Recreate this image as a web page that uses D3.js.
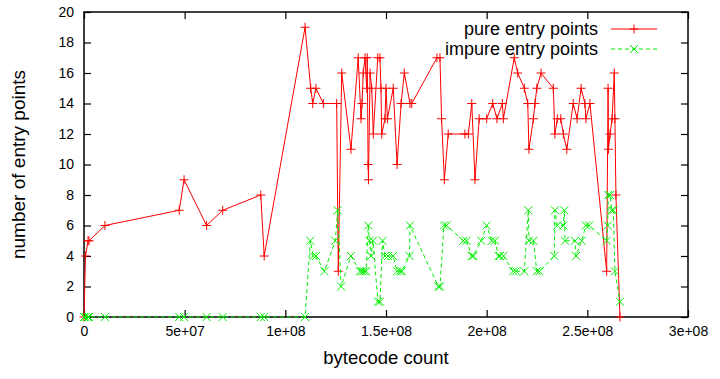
<!DOCTYPE html>
<html>
<head>
<meta charset="utf-8">
<script src="https://cdn.jsdelivr.net/npm/d3@7"></script>
<style>
  html, body { margin: 0; padding: 0; background: #fff; }
  svg { display: block; }
  text { font-family: "Liberation Sans", Arial, sans-serif; fill: #000; }
</style>
</head>
<body>
<svg id="chart" width="720" height="379"></svg>
<script>
// Entry points per program, against program size in bytecodes (millions)
const pureBytecodes = [0, 0.75, 2.0, 2.5, 10.4, 47.3, 49.7, 60.9, 68.9, 87.8, 89.5, 109.8,
  112.6, 113.6, 115.2, 118.9, 125.5, 126.3, 128.0, 132.6, 136.2, 137.6, 138.1, 138.7,
  139.6, 140.4, 140.7, 141.1, 141.3, 142.1, 142.9, 143.7, 145.9, 147.0, 147.5, 147.9,
  149.5, 150.0, 150.7, 153.6, 155.5, 157.5, 159.1, 161.9, 162.8, 175.3, 176.8, 177.6,
  179.0, 180.9, 189.2, 190.9, 192.6, 194.2, 196.3, 200.0, 203.0, 205.1, 207.8, 208.3,
  213.7, 215.4, 218.7, 220.4, 221.0, 223.2, 224.0, 224.9, 227.0, 233.1, 233.9, 235.1,
  236.8, 238.1, 239.8, 243.0, 244.9, 246.9, 248.8, 249.3, 251.3, 259.6, 260.3, 260.5,
  261.3, 262.3, 263.4, 263.7, 264.2, 266.2];
const pureCounts = [0, 4, 5, 5, 6, 7, 9, 6, 7, 8, 4, 19,
  15, 14, 15, 14, 14, 3, 16, 11, 17, 13, 14, 16,
  17, 15, 17, 10, 9, 16, 15, 12, 17, 17, 15, 12,
  13, 15, 13, 15, 10, 14, 16, 14, 14, 17, 17, 13,
  9, 12, 12, 12, 14, 9, 13, 13, 14, 13, 14, 13,
  17, 16, 15, 14, 11, 13, 14, 15, 16, 15, 12, 13,
  13, 12, 11, 14, 13, 15, 14, 13, 14, 3, 15, 11,
  12, 13, 16, 13, 8, 0];

const impureBytecodes = [0, 0.75, 2.0, 2.5, 10.4, 47.3, 49.7, 60.9, 68.9, 87.8, 89.5, 109.8,
  112.4, 113.9, 115.2, 119.4, 124.8, 126.0, 127.7, 132.6, 137.1, 138.1, 139.1, 140.1,
  141.2, 141.8, 142.6, 143.5, 146.0, 147.0, 148.3, 149.5, 151.0, 153.5, 155.5, 157.0,
  157.9, 161.7, 161.9, 176.0, 176.8, 178.8, 180.1, 188.4, 190.0, 192.6, 193.4, 197.3,
  200.0, 202.5, 204.1, 205.9, 206.6, 208.3, 213.2, 214.6, 218.7, 220.7, 221.0, 223.2,
  224.9, 226.2, 233.6, 233.9, 235.1, 238.1, 238.6, 238.9, 243.9, 244.4, 247.2, 249.3,
  250.9, 259.6, 260.1, 260.4, 261.3, 262.1, 262.9, 263.7, 266.2];
const impureCounts = [0, 0, 0, 0, 0, 0, 0, 0, 0, 0, 0, 0,
  5, 4, 4, 3, 5, 7, 2, 4, 3, 3, 3, 3,
  6, 5, 4, 5, 1, 1, 5, 4, 4, 4, 3, 3,
  3, 4, 6, 2, 2, 6, 6, 5, 5, 4, 4, 5,
  6, 5, 5, 4, 4, 4, 3, 3, 3, 7, 5, 5,
  3, 3, 4, 7, 6, 6, 7, 5, 5, 4, 5, 6,
  6, 5, 6, 8, 8, 7, 7, 3, 1];

const xTickValues = [0, 50, 100, 150, 200, 250, 300];
const xTickLabels = ["0", "5e+07", "1e+08", "1.5e+08", "2e+08", "2.5e+08", "3e+08"];
const yTickValues = [0, 2, 4, 6, 8, 10, 12, 14, 16, 18, 20];
const seriesNames = ["pure entry points", "impure entry points"];
const seriesColors = ["#ff0000", "#00ee00"];

const svg = d3.select("#chart");
const plotLeft = 84, plotRight = 688, plotTop = 12, plotBottom = 317;

const x = d3.scaleLinear().domain([0, 300]).range([plotLeft, plotRight]);
const y = d3.scaleLinear().domain([0, 20]).range([plotBottom, plotTop]);

const tickLen = 7;
const axisFont = "14px";

// axes with inward ticks, mirrored on the top and right
const gx = svg.append("g").attr("transform", `translate(0,${plotBottom})`)
  .call(d3.axisBottom(x).tickValues(xTickValues)
    .tickFormat((d, i) => xTickLabels[i]).tickSize(-tickLen).tickSizeOuter(0).tickPadding(9));
const gxTop = svg.append("g").attr("transform", `translate(0,${plotTop})`)
  .call(d3.axisTop(x).tickValues(xTickValues).tickFormat("").tickSize(-tickLen).tickSizeOuter(0));
const gy = svg.append("g").attr("transform", `translate(${plotLeft},0)`)
  .call(d3.axisLeft(y).tickValues(yTickValues).tickSize(-tickLen).tickSizeOuter(0).tickPadding(10));
const gyRight = svg.append("g").attr("transform", `translate(${plotRight},0)`)
  .call(d3.axisRight(y).tickValues(yTickValues).tickFormat("").tickSize(-tickLen).tickSizeOuter(0));

[gx, gxTop, gy, gyRight].forEach(g => {
  g.select(".domain").remove();
  g.selectAll(".tick line").attr("stroke", "#000").attr("stroke-width", 1.2);
  g.selectAll(".tick text").attr("font-size", axisFont)
    .attr("font-family", "Liberation Sans, Arial, sans-serif").attr("fill", "#000");
});

// frame
svg.append("rect").attr("x", plotLeft).attr("y", plotTop)
  .attr("width", plotRight - plotLeft).attr("height", plotBottom - plotTop)
  .attr("fill", "none").attr("stroke", "#000").attr("stroke-width", 1.5);

// axis titles
svg.append("text").attr("x", (plotLeft + plotRight) / 2).attr("y", 364)
  .attr("text-anchor", "middle").attr("font-size", "18.5px").text("bytecode count");
svg.append("text").attr("transform", `translate(25,${(plotTop + plotBottom) / 2}) rotate(-90)`)
  .attr("text-anchor", "middle").attr("font-size", "19px").text("number of entry points");

const plus = "M-4.5,0H4.5M0,-4.5V4.5";
const cross = "M-4,-4L4,4M-4,4L4,-4";

const line = d3.line().x(d => x(d[0])).y(d => y(d[1]));

const series = [
  { xs: pureBytecodes, ys: pureCounts, color: seriesColors[0], dash: null, marker: plus },
  { xs: impureBytecodes, ys: impureCounts, color: seriesColors[1], dash: "4,3", marker: cross }
];

series.forEach(s => {
  const pts = s.xs.map((v, i) => [v, s.ys[i]]);
  const g = svg.append("g");
  g.append("path").datum(pts).attr("d", line)
    .attr("fill", "none").attr("stroke", s.color).attr("stroke-width", 1)
    .attr("stroke-dasharray", s.dash);
  g.selectAll("path.m").data(pts).enter().append("path").attr("class", "m")
    .attr("d", s.marker).attr("transform", d => `translate(${x(d[0])},${y(d[1])})`)
    .attr("fill", "none").attr("stroke", s.color).attr("stroke-width", 1);
});

// legend
const legendRows = [29, 49];
series.forEach((s, i) => {
  const ly = legendRows[i];
  svg.append("text").attr("x", 598).attr("y", ly + 6).attr("text-anchor", "end")
    .attr("font-size", "18px").text(seriesNames[i]);
  svg.append("line").attr("x1", 611).attr("x2", 657).attr("y1", ly).attr("y2", ly)
    .attr("stroke", s.color).attr("stroke-width", 1).attr("stroke-dasharray", s.dash);
  svg.append("path").attr("d", s.marker).attr("transform", `translate(634,${ly})`)
    .attr("fill", "none").attr("stroke", s.color).attr("stroke-width", 1);
});
</script>
</body>
</html>
